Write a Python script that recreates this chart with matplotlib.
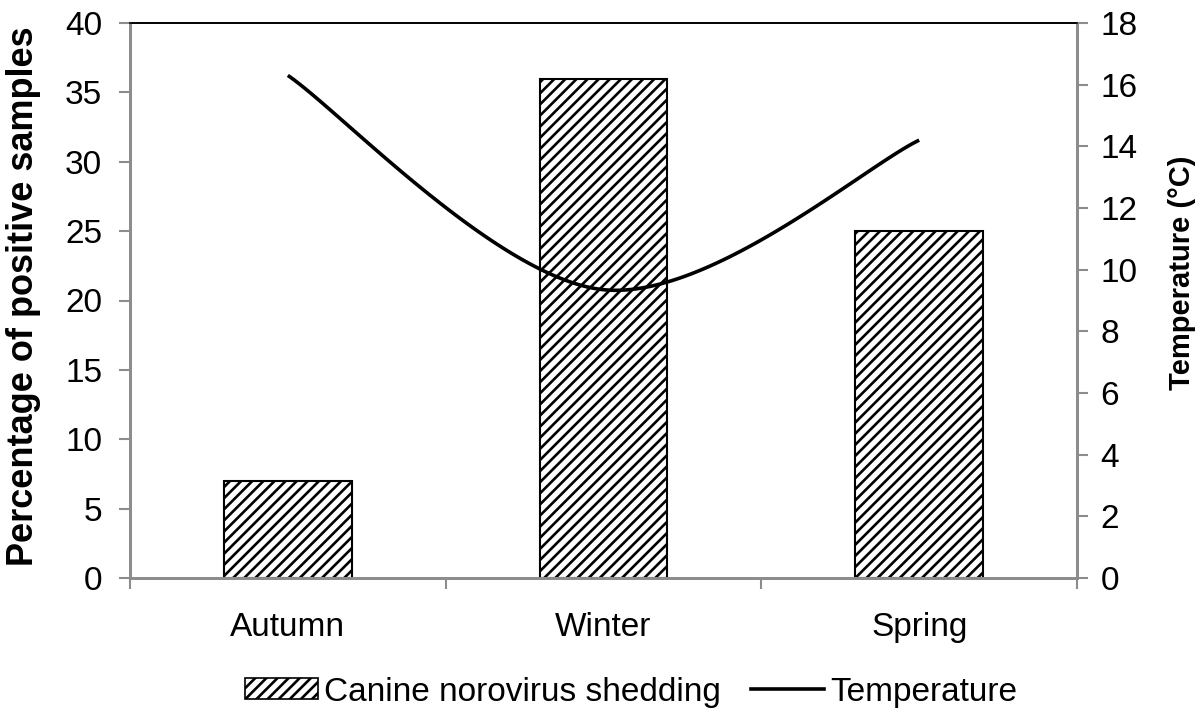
import numpy as np
import matplotlib
matplotlib.use("Agg")
import matplotlib.pyplot as plt
from matplotlib.lines import Line2D
from matplotlib.patches import Patch

# ---- data ----
seasons = ["Autumn", "Winter", "Spring"]
shedding_pct = [7, 36, 25]
temperature_c = [16.3, 9.35, 14.2]
left_ticks = [0, 5, 10, 15, 20, 25, 30, 35, 40]
right_ticks = [0, 2, 4, 6, 8, 10, 12, 14, 16, 18]

plt.rcParams['font.family'] = ['Liberation Sans', 'DejaVu Sans']
plt.rcParams['hatch.linewidth'] = 1.9

GRAY = "#8c8c8c"
HATCH = "///"

fig = plt.figure(figsize=(12, 7.14), dpi=100)
ax = fig.add_axes([130/1200, 1 - 578/714, 947/1200, 555/714])
ax2 = ax.twinx()

x = np.arange(len(seasons))
ax.bar(x, shedding_pct, width=0.405, facecolor="white", edgecolor="black",
       linewidth=1.5, hatch=HATCH, zorder=2)

# Excel-style smoothed line (cubic Bezier through the data points)
def excel_smooth(xs, ys, n=60):
    P = np.column_stack([xs, ys]).astype(float)
    m = len(P)
    out = []
    for i in range(m - 1):
        p_prev = P[i - 1] if i > 0 else P[i]
        p_next2 = P[i + 2] if i + 2 < m else P[i + 1]
        c1 = P[i] + (P[i + 1] - p_prev) / 6.0
        c2 = P[i + 1] - (p_next2 - P[i]) / 6.0
        t = np.linspace(0, 1, n)[:, None]
        seg = ((1 - t) ** 3) * P[i] + 3 * ((1 - t) ** 2) * t * c1 \
            + 3 * (1 - t) * t ** 2 * c2 + t ** 3 * P[i + 1]
        out.append(seg if i == 0 else seg[1:])
    return np.vstack(out)

curve = excel_smooth(x, temperature_c)
ax2.plot(curve[:, 0], curve[:, 1], color="black", linewidth=2.6, zorder=3,
         solid_capstyle="butt")

ax.set_xlim(-0.5, 2.5)
ax.set_ylim(0, 40)
ax2.set_ylim(0, 18)
ax.set_yticks(left_ticks)
ax2.set_yticks(right_ticks)

ax.set_xticks([-0.5, 0.5, 1.5, 2.5])
ax.set_xticklabels([])
ax.set_xticks(x, minor=True)
ax.set_xticklabels(seasons, minor=True)
ax.tick_params(axis="x", which="major", direction="out", length=8, width=1.5, color=GRAY)
ax.tick_params(axis="x", which="minor", length=0, pad=24.5, labelsize=24)
ax.tick_params(axis="y", direction="out", length=8, width=1.5, color=GRAY, labelsize=24, pad=12)
ax2.tick_params(axis="y", direction="out", length=8, width=1.5, color=GRAY, labelsize=24, pad=9)

for a in (ax, ax2):
    for side in ("left", "right", "bottom"):
        a.spines[side].set_color(GRAY)
        a.spines[side].set_linewidth(2)
    a.spines["top"].set_color("black")
    a.spines["top"].set_linewidth(1.2)

ax.set_ylabel("Percentage of positive samples", fontsize=26, fontweight="bold")
ax.yaxis.set_label_coords(-0.094, 0.507)
ax2.set_ylabel("Temperature (°C)", fontsize=21, fontweight="bold")
ax2.yaxis.set_label_coords(1.096, 0.55)

handles = [Patch(facecolor="white", edgecolor="black", hatch=HATCH, linewidth=1.2),
           Line2D([0], [0], color="black", linewidth=2.6)]
fig.legend(handles, ["Canine norovirus shedding", "Temperature"],
           loc="center", bbox_to_anchor=(0.526, 1 - 692/714), ncol=2, frameon=False,
           fontsize=24, handlelength=2.2, handletextpad=0.18, columnspacing=0.9,
           handleheight=0.6, borderpad=0.2)

fig.savefig("out.png", dpi=100)
